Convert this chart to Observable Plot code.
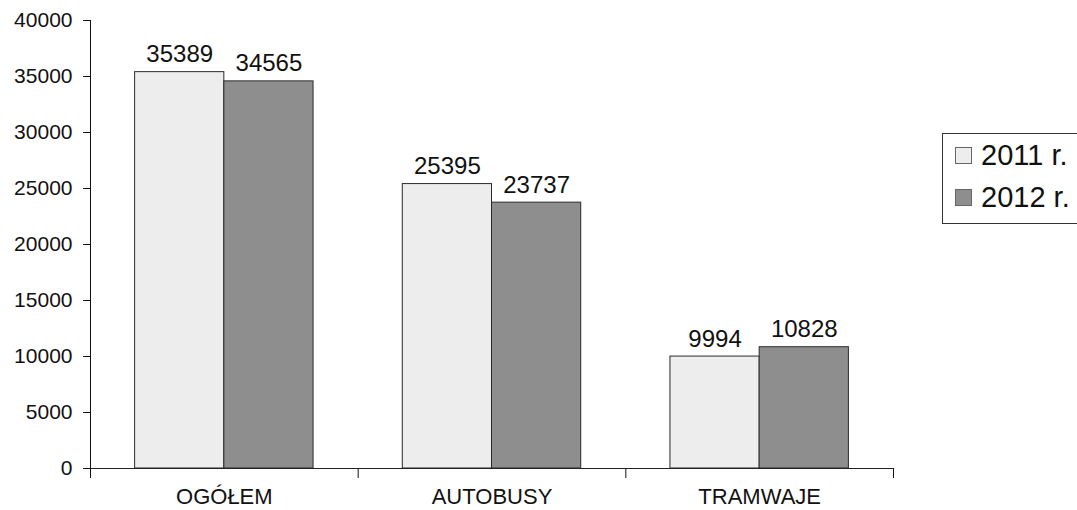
<!DOCTYPE html>
<html>
<head>
<meta charset="utf-8">
<script src="https://cdn.jsdelivr.net/npm/d3@7"></script>
<script src="https://cdn.jsdelivr.net/npm/@observablehq/plot@0.6"></script>
<style>
  html, body { margin: 0; padding: 0; background: #fff; }
  #wrap { position: relative; width: 1077px; height: 510px; overflow: hidden; font-family: "Liberation Sans", Arial, sans-serif; }
  #legend { position: absolute; left: 942px; top: 133px; width: 150px; height: 91px; border: 1.5px solid #333; box-sizing: border-box; }
  .item { position: absolute; left: 12px; display: flex; align-items: center; font-size: 29px; color: #111; white-space: nowrap; }
  .sw { width: 17px; height: 17px; border: 1px solid #666; margin-right: 9px; box-sizing: border-box; }
</style>
</head>
<body>
<div id="wrap"><div id="chart"></div><div id="legend"></div></div>
<script>
const categories = ["OGÓŁEM", "AUTOBUSY", "TRAMWAJE"];
const years = ["2011 r.", "2012 r."];
const values2011 = [35389, 25395, 9994];
const values2012 = [34565, 23737, 10828];
const yTicks = [0, 5000, 10000, 15000, 20000, 25000, 30000, 35000, 40000];
const colors = ["#ededed", "#8e8e8e"];

const series = [values2011, values2012];
const data = [];
categories.forEach((c, i) => {
  series.forEach((vals, k) => {
    data.push({cat: c, i, year: years[k], k, value: vals[i], x1: i + 1/6 + k/3, x2: i + 1/6 + (k + 1)/3});
  });
});
const catData = categories.map((c, i) => ({cat: c, pos: i + 0.5}));

const chart = Plot.plot({
  width: 1077,
  height: 510,
  marginLeft: 90,
  marginRight: 184,
  marginTop: 20,
  marginBottom: 42,
  style: {fontFamily: "Liberation Sans, Arial, sans-serif", fontSize: "21px", color: "#111", background: "#fff"},
  x: {domain: [0, 3], ticks: [0, 1, 2, 3], tickFormat: () => "", tickSize: 10, label: null, line: true},
  y: {domain: [0, 40000], ticks: yTicks, tickSize: 7, tickPadding: 11, label: null, line: true, tickFormat: d => String(d)},
  color: {domain: years, range: colors},
  marks: [
    Plot.rect(data, {x1: "x1", x2: "x2", y1: 0, y2: "value", fill: "year", stroke: "#2a2a2a", strokeWidth: 1}),
    Plot.text(data, {x: d => (d.x1 + d.x2) / 2, y: "value", text: d => String(d.value), dy: -10, lineAnchor: "bottom", fontSize: 24, fill: "#111"}),
    Plot.text(catData, {x: "pos", y: 0, text: "cat", dy: 28, lineAnchor: "middle", fontSize: 22, fill: "#111"}),
    Plot.ruleY([0], {stroke: "#222"})
  ]
});
document.getElementById("chart").appendChild(chart);

const legend = document.getElementById("legend");
years.forEach((y, k) => {
  const it = document.createElement("div");
  it.className = "item";
  it.style.top = (k === 0 ? 5 : 47) + "px";
  it.innerHTML = `<div class="sw" style="background:${colors[k]}"></div><span>${y}</span>`;
  legend.appendChild(it);
});
</script>
</body>
</html>
